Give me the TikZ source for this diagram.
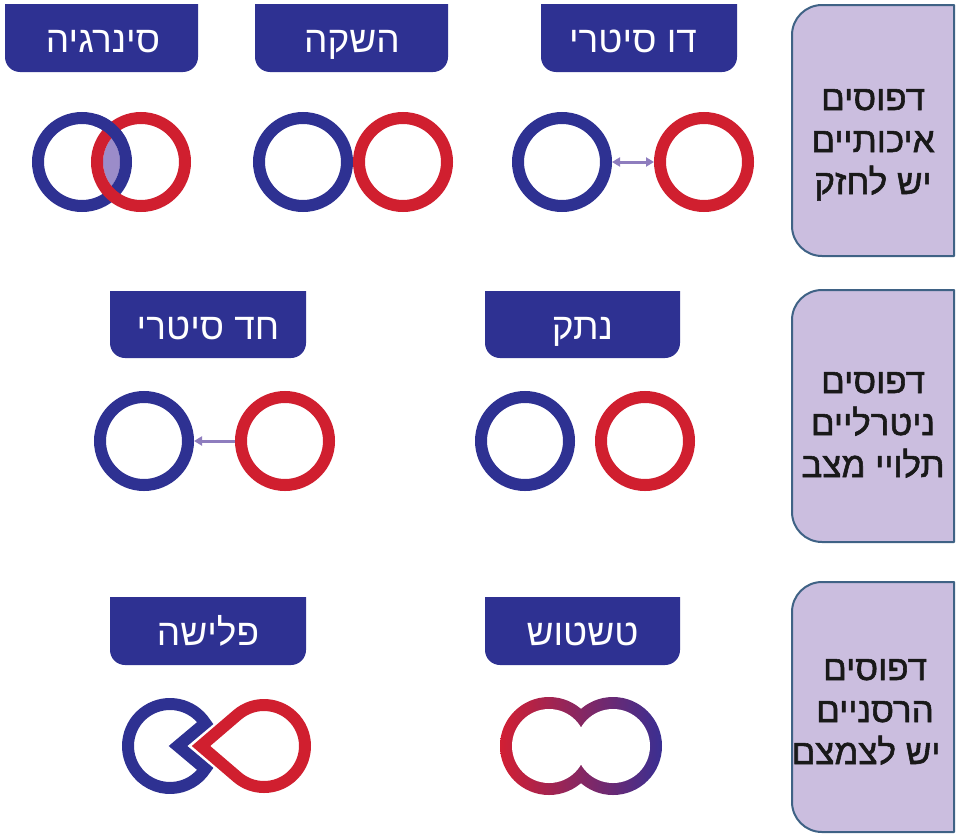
\documentclass[tikz,border=0pt]{standalone}
\usepackage{fontspec}
\newfontfamily\hebfont[Script=Hebrew]{Liberation Sans}
\newfontfamily\hebboxfont[Script=Hebrew,FakeBold=1.6]{Liberation Sans}
\TeXXeTstate=1
\usetikzlibrary{arrows.meta,calc}
\definecolor{ringblue}{HTML}{2E3192}
\definecolor{ringred}{HTML}{D01F2F}
\definecolor{tabblue}{HTML}{2E3192}
\definecolor{boxfill}{HTML}{CBBEDF}
\definecolor{boxline}{HTML}{3F6285}
\definecolor{arrowpurple}{HTML}{8E7DBE}
\definecolor{lensfill}{HTML}{9B8CC9}
\definecolor{blurred}{HTML}{D21F33}
\definecolor{blurblue}{HTML}{3A2F92}
\newcommand{\tabpath}[4]{\fill[tabblue] (#1,#2) -- (#3,#2) -- (#3,#4-15) arc[start angle=0,end angle=90,radius=15] -- (#1+15,#4) arc[start angle=90,end angle=180,radius=15] -- cycle;}
\newcommand{\sidebox}[4]{\filldraw[fill=boxfill,draw=boxline,line width=2pt,line join=round] (#3,#2) -- (#1+30,#2) arc[start angle=270,end angle=180,radius=30] -- (#1,#4-30) arc[start angle=180,end angle=90,radius=30] -- (#3,#4) -- cycle;}
\begin{document}
\begin{tikzpicture}[x=1pt,y=-1pt,
  bring/.style={circle,draw=ringblue,line width=12pt,minimum size=88pt,inner sep=0pt},
  rring/.style={bring,draw=ringred},
  tablabel/.style={text=white,font=\hebfont\fontsize{37}{40}\selectfont,inner sep=0pt,anchor=base},
  boxlabel/.style={text=black!90,font=\hebboxfont\fontsize{35}{40}\selectfont,inner sep=0pt,anchor=base},
  link/.style={draw=arrowpurple,line width=3pt},
  tip/.tip={Triangle[length=8pt,width=9pt]},
]
\useasboundingbox (0,0) rectangle (957,835);

% ---------- side boxes ----------
\sidebox{792}{5}{954}{256}
\sidebox{792}{290}{954}{542}
\sidebox{792}{582}{954}{832}
\node[boxlabel] (g1a) at (873,110) {\beginR דפוסים\endR};
\node[boxlabel] (g1b) at (873,152) {\beginR איכותיים\endR};
\node[boxlabel] (g1c) at (873,194) {\beginR יש לחזק\endR};
\node[boxlabel] (g2a) at (873,393) {\beginR דפוסים\endR};
\node[boxlabel] (g2b) at (873,435) {\beginR ניטרליים\endR};
\node[boxlabel] (g2c) at (873,477) {\beginR תלויי מצב\endR};
\node[boxlabel] (g3a) at (875,680) {\beginR דפוסים\endR};
\node[boxlabel] (g3b) at (875,722) {\beginR הרסניים\endR};
\node[boxlabel] (g3c) at (866,764) {\beginR יש לצמצם\endR};

% ---------- tabs ----------
\tabpath{5}{4}{198}{72}
\tabpath{255}{4}{448}{72}
\tabpath{541}{4}{737}{72}
\tabpath{110}{291}{306}{358}
\tabpath{485}{291}{680}{358}
\tabpath{110}{597}{306}{665}
\tabpath{485}{597}{680}{665}
\node[tablabel] (t1) at (103,52) {\beginR סינרגיה\endR};
\node[tablabel] (t2) at (352,52) {\beginR השקה\endR};
\node[tablabel] (t3) at (633,52) {\beginR דו סיטרי\endR};
\node[tablabel] (t4) at (208,339) {\beginR חד סיטרי\endR};
\node[tablabel] (t5) at (582.5,339) {\beginR נתק\endR};
\node[tablabel] (t6) at (208,645) {\beginR פלישה\endR};
\node[tablabel] (t7) at (582.5,645) {\beginR טשטוש\endR};

% ---------- row 1 ----------
% synergy
\begin{scope}
  \clip (82,162) circle (38);
  \fill[lensfill] (141,162) circle (38);
\end{scope}
\node[bring] (sb) at (82,162) {};
\node[rring] (sr) at (141,162) {};
\draw[draw=ringblue,line width=12pt] ($(sb.center)+(-72:44)$) arc[start angle=-72,end angle=-25,radius=44];
% irrigation
\node[bring] (hb) at (303,162) {};
\node[rring] (hr) at (403,162) {};
% two-way
\node[bring] (db) at (562,162) {};
\node[rring] (dr) at (704,162) {};
\draw[link,{tip}-{tip}] (db) -- (dr);

% ---------- row 2 ----------
\node[bring] (ob) at (144,441) {};
\node[rring] (or) at (285,441) {};
\draw[link,-{tip}] (or) -- (ob);
\node[bring] (nb) at (525,441) {};
\node[rring] (nr) at (645,441) {};

% ---------- row 3 ----------
% invasion
\coordinate (pc) at (170,746);
\coordinate (pv) at (178,746);
\coordinate (rc) at (264,746);
\coordinate (rv) at (201,746);
\draw[ringblue,line width=12pt,line join=miter] (pv) -- ($(pc)+(-33:42)$) arc[start angle=-33,end angle=-327,radius=42] -- cycle;
\draw[ringred,line width=12pt,line join=miter] (rv) -- ($(rc)+(-130.6:41)$) arc[start angle=-130.6,end angle=130.6,radius=41] -- cycle;
% blur
\coordinate (bl) at (549,746);
\coordinate (br) at (613,746);
\shade[left color=blurred,right color=blurblue] (bl) circle (49) (br) circle (49);
\fill[white] (bl) circle (37) (br) circle (37);
\end{tikzpicture}
\end{document}
